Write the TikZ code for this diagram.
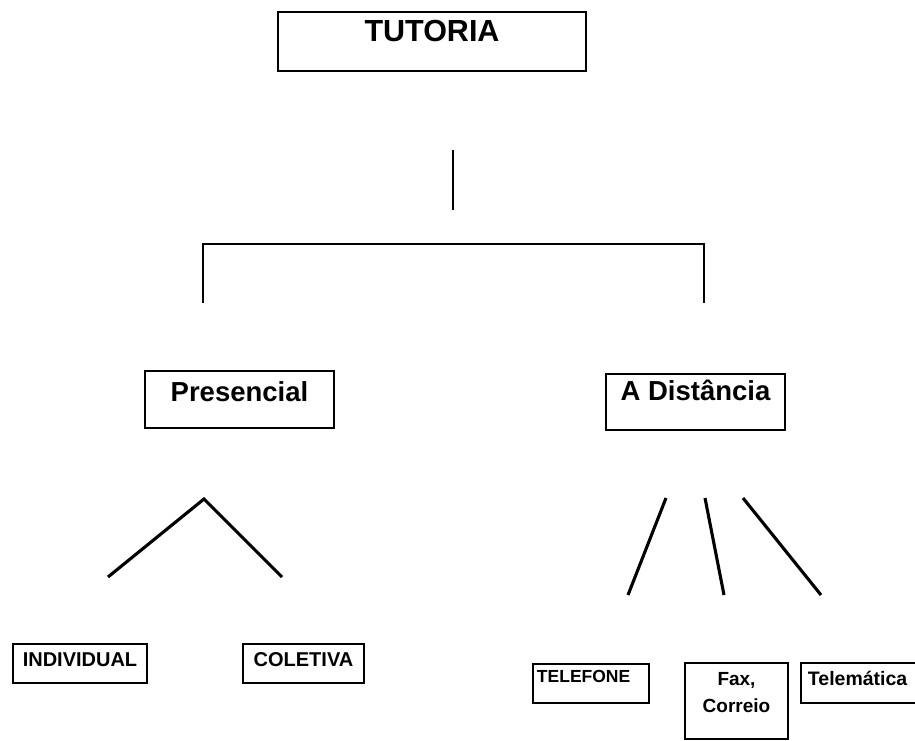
\documentclass[tikz,border=0pt]{standalone}
\usepackage{fontspec}
\setmainfont{Liberation Sans}
\begin{document}
\begin{tikzpicture}[x=1pt,y=-1pt,
  box/.style={draw=black, line width=1.9pt, rectangle, inner ysep=0pt, inner xsep=5pt, font=\bfseries},
  conn/.style={draw=black, line width=3.1pt},
  thin/.style={draw=black, line width=2.1pt}]
\useasboundingbox (0,0) rectangle (915,741);
\clip (0,0) rectangle (915,741);
% top level
\node[box, minimum width=308pt, text height=30pt, text depth=29pt, anchor=base, font=\bfseries\fontsize{30.5}{36}\selectfont] (tut) at (432,42) {TUTORIA};
% second level
\node[box, minimum width=189pt, text height=30pt, text depth=27pt, anchor=base, font=\bfseries\fontsize{27.5}{33}\selectfont] (pres) at (239.5,401) {Presencial};
\node[box, minimum width=179pt, text height=26pt, text depth=30pt, anchor=base, font=\bfseries\fontsize{27.5}{33}\selectfont] (dist) at (695.5,400) {A Distância};
% third level
\node[box, minimum width=134pt, text height=22pt, text depth=17pt, anchor=base, font=\bfseries\fontsize{20}{24}\selectfont] (ind) at (80,666) {INDIVIDUAL};
\node[box, minimum width=121pt, text height=22pt, text depth=17pt, anchor=base, font=\bfseries\fontsize{20}{24}\selectfont] (col) at (303.5,666) {COLETIVA};
\node[box, text height=18pt, text depth=21pt, anchor=base west, inner xsep=4pt, font=\bfseries\fontsize{17.5}{21}\selectfont] (tel) at (532,682) {\makebox[108pt][l]{TELEFONE}};
\node[box, minimum width=103pt, text height=22pt, text depth=54pt, anchor=base, font=\bfseries\fontsize{19}{27}\selectfont] (fax) at (736.5,685) {\begin{tabular}[t]{@{}c@{}}Fax,\\Correio\end{tabular}};
\node[box, text height=22pt, text depth=18pt, anchor=base west, inner xsep=7pt, font=\bfseries\fontsize{19.5}{24}\selectfont] (tele) at (800,685) {\makebox[120pt][l]{Telemática}};
% connectors
\coordinate (v1) at (453,150);
\coordinate (v2) at (453,210);
\coordinate (bl) at (203,303);
\coordinate (blt) at (203,244);
\coordinate (brt) at (704,244);
\coordinate (br) at (704,303);
\draw[thin] (v1) -- (v2);
\draw[thin] (bl) -- (blt) -- (brt) -- (br);
\coordinate (apex) at (204,499);
\coordinate (pl) at (108,577);
\coordinate (pr) at (282,577);
\draw[conn] (pl) -- (apex) -- (pr);
\coordinate (d1a) at (666,498);
\coordinate (d1b) at (628,595);
\coordinate (d2a) at (705,498);
\coordinate (d2b) at (724,595);
\coordinate (d3a) at (743,498);
\coordinate (d3b) at (821,595);
\draw[conn] (d1a) -- (d1b);
\draw[conn] (d2a) -- (d2b);
\draw[conn] (d3a) -- (d3b);
\end{tikzpicture}
\end{document}
